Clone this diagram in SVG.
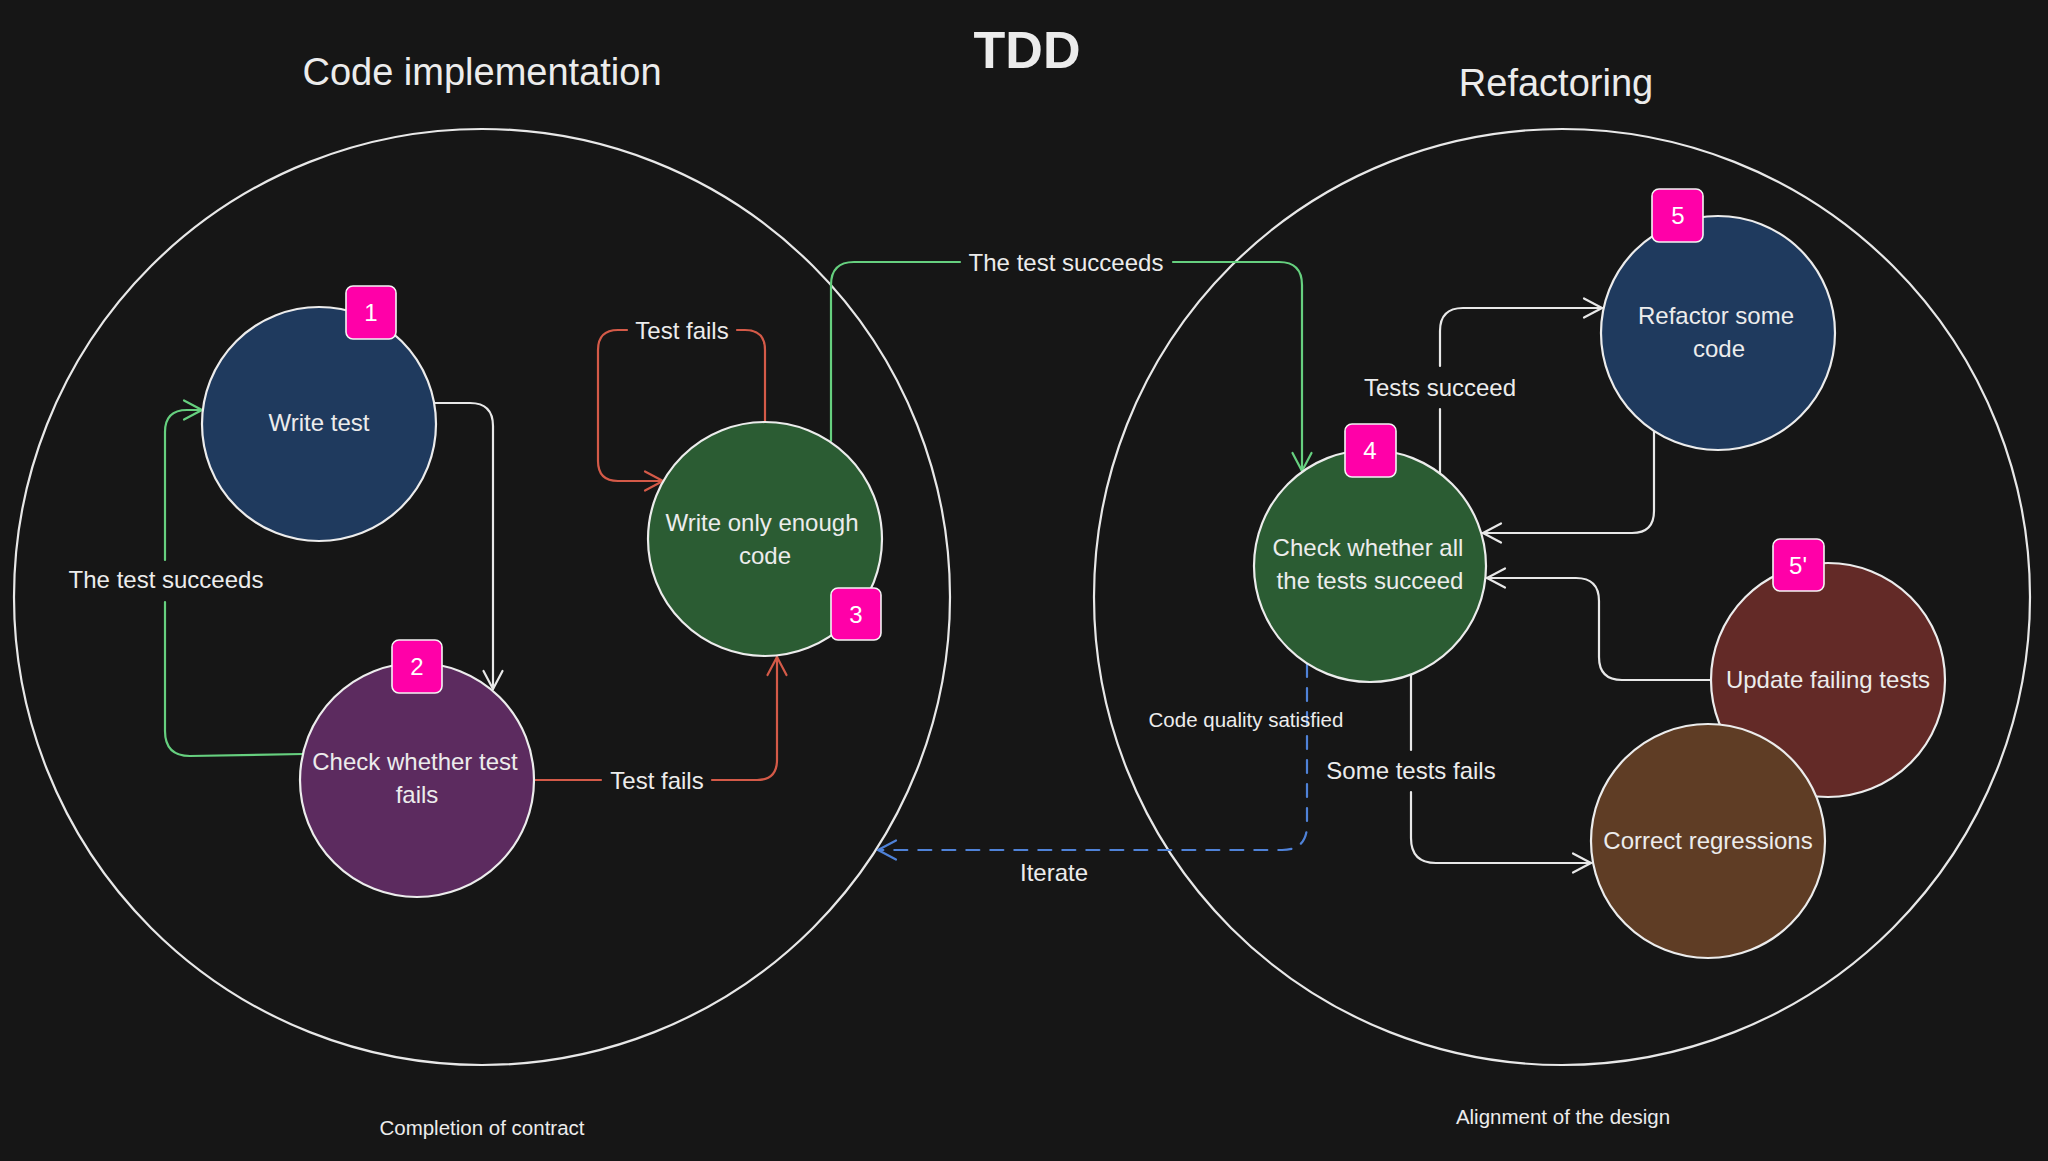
<svg xmlns="http://www.w3.org/2000/svg" width="2048" height="1161" viewBox="0 0 2048 1161">
<style>
  text { font-family: "Liberation Sans", Arial, Helvetica, sans-serif; fill: #ececec; }
  .title { font-size: 38px; text-anchor: middle; }
  .tdd { font-size: 52px; font-weight: bold; text-anchor: middle; }
  .sub { font-size: 20.5px; text-anchor: middle; }
  .lbl { font-size: 24px; text-anchor: middle; }
  .small { font-size: 20.5px; text-anchor: middle; }
  .ntext { font-size: 24px; text-anchor: middle; }
  .badge rect { fill: #ff00a8; stroke: #f4f4f4; stroke-width: 1.6; }
  .badge text { font-size: 24px; text-anchor: middle; fill: #ffffff; }
  .area { fill: none; stroke: #e8e8e8; stroke-width: 2.2; }
  .node { stroke: #ececec; stroke-width: 2.2; }
  .c { fill: none; stroke-width: 2.2; stroke-linecap: round; stroke-linejoin: round; }
  .w { stroke: #e8e8e8; }
  .g { stroke: #66d07f; }
  .r { stroke: #d45a48; }
  .b { stroke: #4f82d8; stroke-dasharray: 13 11; }
</style>
<defs>
  <marker id="aw" markerUnits="userSpaceOnUse" markerWidth="26" markerHeight="26" viewBox="-22 -13 26 26" refX="0" refY="0" orient="auto">
    <path d="M -18 -9.5 L 0 0 L -18 9.5" fill="none" stroke="#e8e8e8" stroke-width="2.2" stroke-linecap="round" stroke-linejoin="round"/>
  </marker>
  <marker id="ag" markerUnits="userSpaceOnUse" markerWidth="26" markerHeight="26" viewBox="-22 -13 26 26" refX="0" refY="0" orient="auto">
    <path d="M -18 -9.5 L 0 0 L -18 9.5" fill="none" stroke="#66d07f" stroke-width="2.2" stroke-linecap="round" stroke-linejoin="round"/>
  </marker>
  <marker id="ar" markerUnits="userSpaceOnUse" markerWidth="26" markerHeight="26" viewBox="-22 -13 26 26" refX="0" refY="0" orient="auto">
    <path d="M -18 -9.5 L 0 0 L -18 9.5" fill="none" stroke="#d45a48" stroke-width="2.2" stroke-linecap="round" stroke-linejoin="round"/>
  </marker>
  <marker id="ab" markerUnits="userSpaceOnUse" markerWidth="26" markerHeight="26" viewBox="-22 -13 26 26" refX="0" refY="0" orient="auto">
    <path d="M -18 -9.5 L 0 0 L -18 9.5" fill="none" stroke="#4f82d8" stroke-width="2.2" stroke-linecap="round" stroke-linejoin="round"/>
  </marker>
</defs>

<rect x="0" y="0" width="2048" height="1161" fill="#161616"/>

<text class="tdd" x="1027" y="68">TDD</text>

<g id="area-code-implementation">
  <circle class="area" cx="482" cy="597" r="468"/>
  <text class="title" x="482" y="85">Code implementation</text>
  <text class="sub" x="482" y="1135">Completion of contract</text>
</g>

<g id="area-refactoring">
  <circle class="area" cx="1562" cy="597" r="468"/>
  <text class="title" x="1556" y="96">Refactoring</text>
  <text class="sub" x="1563" y="1124">Alignment of the design</text>
</g>

<g id="connectors">
  <!-- 2 -> 1 : The test succeeds -->
  <path class="c g" d="M 303 754 L 190 756 Q 165 756 165 731 L 165 602"/>
  <path class="c g" d="M 165 560 L 165 432 Q 165 410 187 410 L 202 410" marker-end="url(#ag)"/>
  <text class="lbl" x="166" y="588">The test succeeds</text>

  <!-- 1 -> 2 -->
  <path class="c w" d="M 435 403 L 470 403 Q 493 403 493 426 L 493 689" marker-end="url(#aw)"/>

  <!-- 3 -> 3 : Test fails loop -->
  <path class="c r" d="M 765 422 L 765 350 Q 765 330 745 330 L 737 330"/>
  <path class="c r" d="M 627 330 L 618 330 Q 598 330 598 350 L 598 461 Q 598 481 618 481 L 663 481" marker-end="url(#ar)"/>
  <text class="lbl" x="682" y="339">Test fails</text>

  <!-- 2 -> 3 : Test fails -->
  <path class="c r" d="M 534 780 L 601 780"/>
  <path class="c r" d="M 712 780 L 757 780 Q 777 780 777 760 L 777 657" marker-end="url(#ar)"/>
  <text class="lbl" x="657" y="789">Test fails</text>

  <!-- 3 -> 4 : The test succeeds -->
  <path class="c g" d="M 831 441 L 831 285 Q 831 262 854 262 L 960 262"/>
  <path class="c g" d="M 1173 262 L 1279 262 Q 1302 262 1302 285 L 1302 471" marker-end="url(#ag)"/>
  <text class="lbl" x="1066" y="271">The test succeeds</text>

  <!-- 4 -> 5 : Tests succeed -->
  <path class="c w" d="M 1440 473 L 1440 409"/>
  <path class="c w" d="M 1440 366 L 1440 331 Q 1440 308 1463 308 L 1602 308" marker-end="url(#aw)"/>
  <text class="lbl" x="1440" y="396">Tests succeed</text>

  <!-- 5 -> 4 -->
  <path class="c w" d="M 1654 431 L 1654 511 Q 1654 533 1632 533 L 1483 533" marker-end="url(#aw)"/>

  <!-- 5' -> 4 -->
  <path class="c w" d="M 1711 680 L 1622 680 Q 1599 680 1599 657 L 1599 601 Q 1599 578 1576 578 L 1487 578" marker-end="url(#aw)"/>

  <!-- 4 -> Correct regressions : Some tests fails -->
  <path class="c w" d="M 1411 675 L 1411 750"/>
  <path class="c w" d="M 1411 792 L 1411 838 Q 1411 863 1436 863 L 1591 863" marker-end="url(#aw)"/>
  <text class="lbl" x="1411" y="779">Some tests fails</text>

  <!-- 4 -> Code implementation : Iterate -->
  <path class="c b" d="M 1307 664 L 1307 825 Q 1307 850 1282 850 L 878 850" marker-end="url(#ab)"/>
  <text class="small" x="1246" y="727">Code quality satisfied</text>
  <text class="lbl" x="1054" y="881">Iterate</text>
</g>

<g id="node-write-test">
  <circle class="node" cx="319" cy="424" r="117" fill="#1f3a5e"/>
  <text class="ntext" x="319" y="431">Write test</text>
  <g class="badge"><rect x="346" y="286" width="50" height="53" rx="7"/><text x="371" y="321">1</text></g>
</g>

<g id="node-check-test-fails">
  <circle class="node" cx="417" cy="780" r="117" fill="#5c2b5f"/>
  <text class="ntext" x="415" y="770">Check whether test</text>
  <text class="ntext" x="417" y="803">fails</text>
  <g class="badge"><rect x="392" y="640" width="50" height="53" rx="7"/><text x="417" y="675">2</text></g>
</g>

<g id="node-write-code">
  <circle class="node" cx="765" cy="539" r="117" fill="#2b5c33"/>
  <text class="ntext" x="762" y="531">Write only enough</text>
  <text class="ntext" x="765" y="564">code</text>
  <g class="badge"><rect x="831" y="588" width="50" height="52" rx="7"/><text x="856" y="623">3</text></g>
</g>

<g id="node-check-all-tests">
  <circle class="node" cx="1370" cy="566" r="116" fill="#2b5c33"/>
  <text class="ntext" x="1368" y="556">Check whether all</text>
  <text class="ntext" x="1370" y="589">the tests succeed</text>
  <g class="badge"><rect x="1345" y="424" width="51" height="53" rx="7"/><text x="1370" y="459">4</text></g>
</g>

<g id="node-refactor">
  <circle class="node" cx="1718" cy="333" r="117" fill="#1f3a5e"/>
  <text class="ntext" x="1716" y="324">Refactor some</text>
  <text class="ntext" x="1719" y="357">code</text>
  <g class="badge"><rect x="1652" y="189" width="51" height="53" rx="7"/><text x="1678" y="224">5</text></g>
</g>

<g id="node-update-failing-tests">
  <circle class="node" cx="1828" cy="680" r="117" fill="#632a27"/>
  <text class="ntext" x="1828" y="688">Update failing tests</text>
  <g class="badge"><rect x="1773" y="539" width="51" height="52" rx="7"/><text x="1798" y="574">5'</text></g>
</g>

<g id="node-correct-regressions">
  <circle class="node" cx="1708" cy="841" r="117" fill="#5f3d25"/>
  <text class="ntext" x="1708" y="849">Correct regressions</text>
</g>
</svg>
